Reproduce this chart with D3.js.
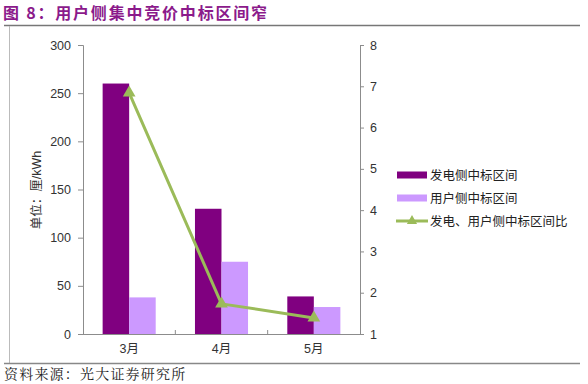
<!DOCTYPE html>
<html>
<head>
<meta charset="utf-8">
<script src="https://cdn.jsdelivr.net/npm/d3@7"></script>
<style>
  body { margin: 0; background: #fff; }
  svg text { font-family: "Liberation Sans", Arial, "Noto Sans CJK SC", sans-serif; }
</style>
</head>
<body>
<script>
// data
const months = ['3月', '4月', '5月'];
const genRange = [260, 130, 39];     // 发电侧中标区间
const userRange = [38, 75, 28];      // 用户侧中标区间
const ratio = [6.84, 1.73, 1.39];    // 发电、用户侧中标区间比
const leftTicks = [0, 50, 100, 150, 200, 250, 300];
const rightTicks = [1, 2, 3, 4, 5, 6, 7, 8];
const seriesNames = ['发电侧中标区间', '用户侧中标区间', '发电、用户侧中标区间比'];

const W = 588, H = 384;
const darkPurple = '#800080', lightPurple = '#cc99ff', green = '#9bbb59';
const axisColor = '#8c8c8c';

let svg = d3.select('body').append('svg')
  .attr('width', W).attr('height', H);

// title + frame lines
svg.append('text')
  .text('图 8：用户侧集中竞价中标区间窄')
  .attr('x', 3).attr('y', 19)
  .attr('font-size', 16).attr('font-weight', 'bold')
  .attr('letter-spacing', 1.8)
  .attr('fill', '#8b1a8b')
  .style('font-family', '"Noto Sans CJK SC", sans-serif');

svg.append('line').attr('x1', 4).attr('x2', 580).attr('y1', 25.5).attr('y2', 25.5)
  .attr('stroke', '#777').attr('stroke-width', 1.5);
svg.append('line').attr('x1', 9.5).attr('x2', 9.5).attr('y1', 26).attr('y2', 363)
  .attr('stroke', '#bbb').attr('stroke-width', 1);
svg.append('line').attr('x1', 4).attr('x2', 580).attr('y1', 363.5).attr('y2', 363.5)
  .attr('stroke', '#888').attr('stroke-width', 1.5);

svg.append('text')
  .text('资料来源：光大证券研究所')
  .attr('x', 4).attr('y', 379)
  .attr('font-size', 14).attr('fill', '#222')
  .attr('letter-spacing', 1.2)
  .style('font-family', '"Noto Serif CJK SC", "Noto Sans CJK SC", serif');

// plot area
const pLeft = 83, pRight = 360, pTop = 45, pBottom = 334;

const x = d3.scaleBand().domain(months).range([pLeft, pRight]);
const xInner = d3.scaleBand().domain([0, 1]).range([0, x.bandwidth()]).paddingOuter(0.74).paddingInner(0);
const yL = d3.scaleLinear().domain([0, 300]).range([pBottom, pTop]);
const yR = d3.scaleLinear().domain([1, 8]).range([pBottom, pTop]);

// bars
const g = svg.append('g');
[genRange, userRange].forEach((vals, si) => {
  g.selectAll('.bar' + si)
    .data(vals)
    .enter()
    .append('rect')
    .attr('x', (d, i) => x(months[i]) + xInner(si))
    .attr('width', xInner.bandwidth())
    .attr('y', d => yL(d))
    .attr('height', d => pBottom - yL(d))
    .attr('fill', si == 0 ? darkPurple : lightPurple);
});

// axes
function styleAxis(sel){
  sel.selectAll('path, line').attr('stroke', axisColor);
  sel.selectAll('text').attr('fill', '#333').attr('font-size', 12.5);
}

svg.append('g')
  .attr('transform', 'translate(' + pLeft + ',0)')
  .call(d3.axisLeft(yL).tickValues(leftTicks).tickSize(5).tickSizeOuter(5).tickPadding(7))
  .call(styleAxis);

svg.append('g')
  .attr('transform', 'translate(' + pRight + ',0)')
  .call(d3.axisRight(yR).tickValues(rightTicks).tickFormat(d3.format('d'))
    .tickSize(4).tickSizeOuter(4).tickPadding(6))
  .call(styleAxis);

const xAxis = svg.append('g')
  .attr('transform', 'translate(0,' + pBottom + ')')
  .call(d3.axisBottom(x).tickSize(0).tickPadding(10))
  .call(styleAxis);
xAxis.select('.domain').attr('d', 'M' + pLeft + ',0.5H' + pRight);
// small ticks at category boundaries
xAxis.selectAll('.sep')
  .data(months.slice(1))
  .enter()
  .append('line')
  .attr('x1', d => x(d)).attr('x2', d => x(d))
  .attr('y1', 0).attr('y2', -4)
  .attr('stroke', axisColor);

// y axis title
svg.append('text')
  .text('单位：厘/kWh')
  .attr('transform', 'translate(41,190) rotate(-90)')
  .attr('text-anchor', 'middle')
  .attr('font-size', 12.5).attr('fill', '#333');

// ratio line
const line = d3.line()
  .x((d, i) => x(months[i]) + x.bandwidth() / 2)
  .y(d => yR(d));

svg.append('path')
  .datum(ratio)
  .attr('fill', 'none')
  .attr('stroke', green)
  .attr('stroke-width', 3)
  .attr('stroke-linejoin', 'round')
  .attr('d', line);

const tri = d3.symbol().type(d3.symbolTriangle).size(70);
svg.selectAll('.marker')
  .data(ratio)
  .enter()
  .append('path')
  .attr('d', tri)
  .attr('transform', (d, i) => 'translate(' + (x(months[i]) + x.bandwidth() / 2) + ',' + yR(d) + ')')
  .attr('fill', green);

// legend
const lg = svg.append('g').attr('transform', 'translate(397,175)');
seriesNames.forEach((name, i) => {
  const row = lg.append('g').attr('transform', 'translate(0,' + (i * 23) + ')');
  if (i < 2) {
    row.append('rect').attr('x', 0).attr('y', -3.5).attr('width', 30).attr('height', 7)
      .attr('fill', i == 0 ? darkPurple : lightPurple);
  } else {
    row.append('line').attr('x1', -1).attr('x2', 31).attr('y1', 0).attr('y2', 0)
      .attr('stroke', green).attr('stroke-width', 3);
    row.append('path').attr('d', d3.symbol().type(d3.symbolTriangle).size(45))
      .attr('transform', 'translate(15,0)').attr('fill', green);
  }
  row.append('text').text(name)
    .attr('x', 33).attr('y', 4.5)
    .attr('font-size', 12.5).attr('fill', '#222');
});
</script>
</body>
</html>
